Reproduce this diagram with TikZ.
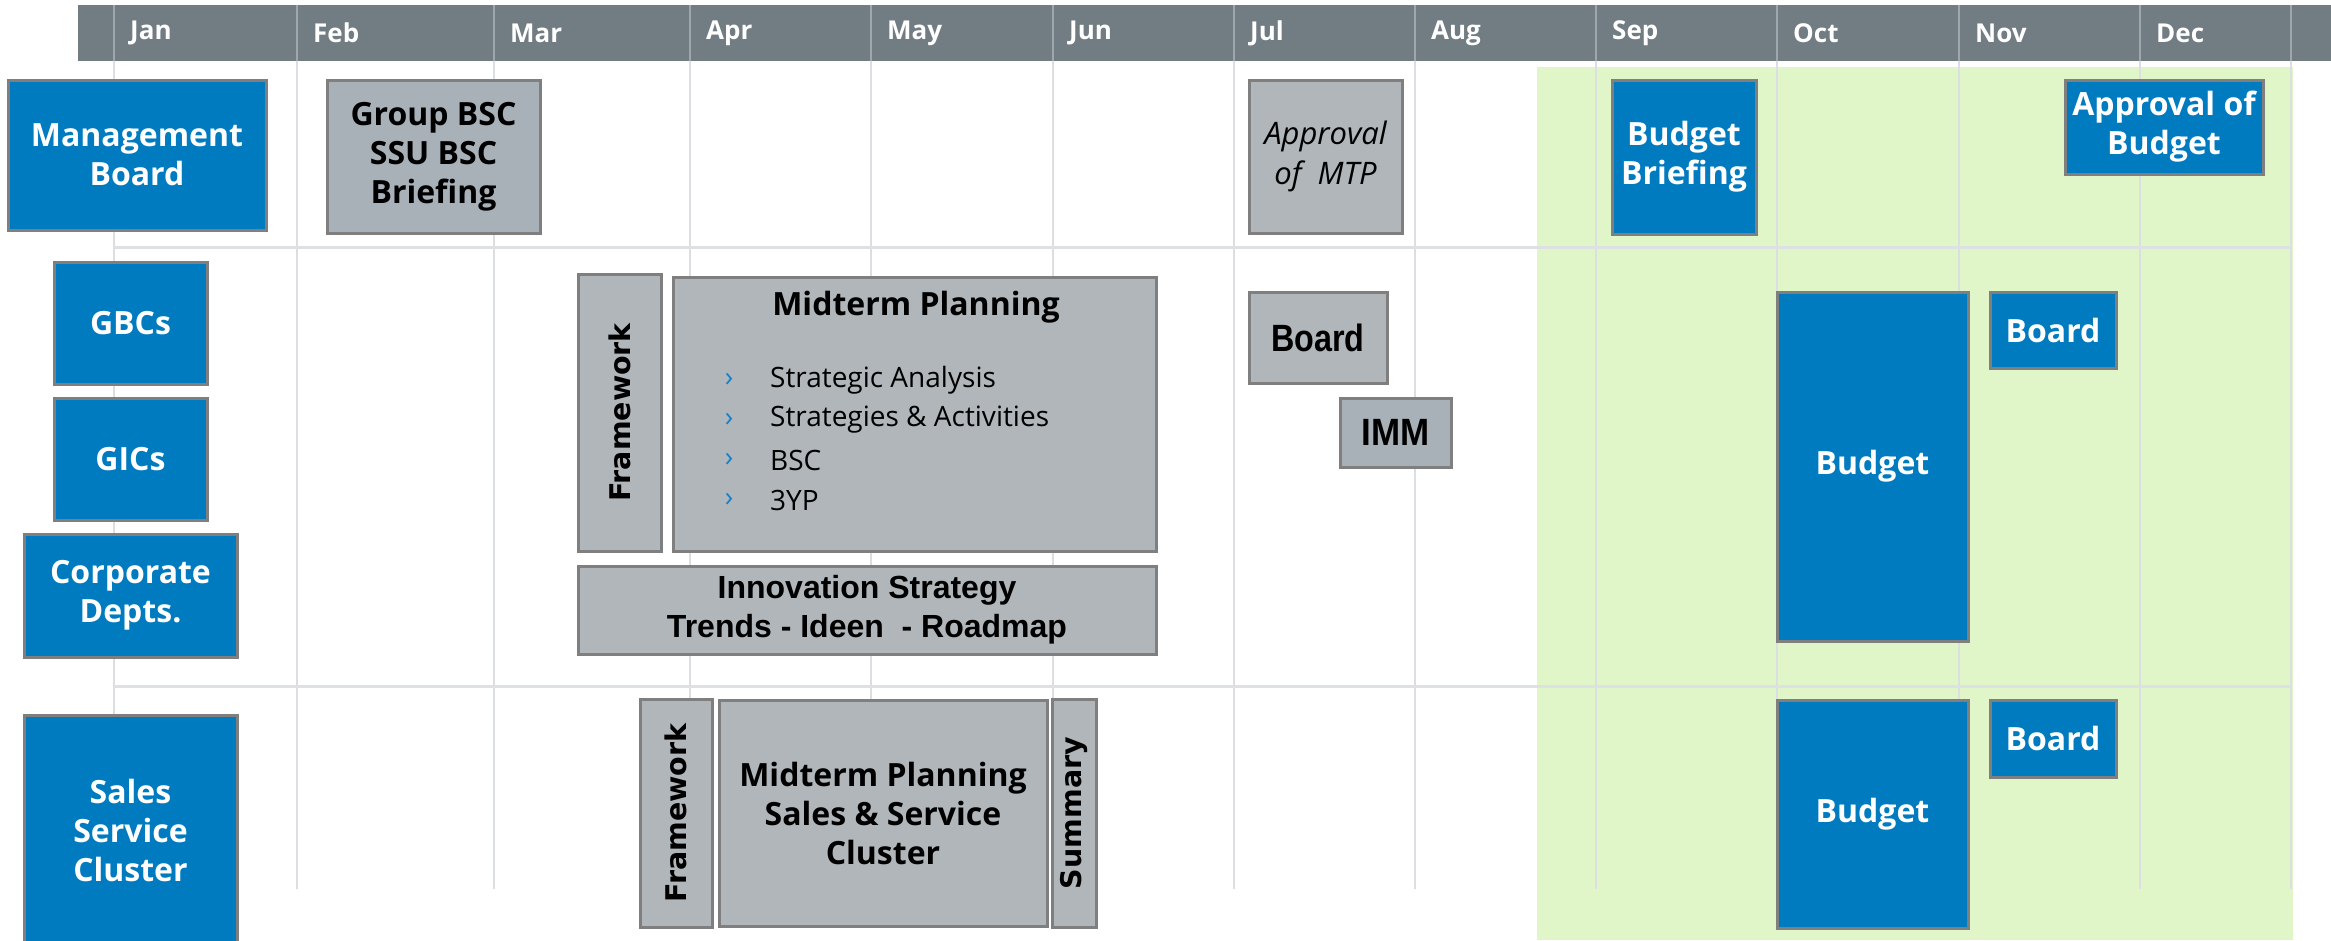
\documentclass[tikz,border=0pt]{standalone}
\usepackage{fontspec}
\setmainfont{Open Sans}
\newfontfamily\arialf{Liberation Sans}
\newfontfamily\narrowf{Liberation Sans}[FakeStretch=0.85]
\newfontfamily\narrowg{Liberation Sans}[FakeStretch=0.92]
\newfontfamily\widef{DejaVu Sans}
\definecolor{hdr}{HTML}{717C83}
\definecolor{gridc}{HTML}{DCDFE2}
\definecolor{gridh}{HTML}{9EA7AC}
\definecolor{sepc}{HTML}{DDE1E4}
\definecolor{greenbg}{HTML}{E0F6C8}
\definecolor{bluebx}{HTML}{007BC0}
\definecolor{bordc}{HTML}{7F7F7F}
\definecolor{grayA}{HTML}{B0B6B9}
\definecolor{grayB}{HTML}{A8B0B8}
\definecolor{bullc}{HTML}{1A80C4}
\newcommand\bx[7]{\node[#2, minimum width={#5-#3}, minimum height={#6-#4}] (#1) at ({(#3+#5)/2},{(#4+#6)/2}) {#7};}
\tikzset{
  basebox/.style={draw=bordc, line width=3pt, inner sep=0pt, align=center},
  bluebox/.style={basebox, fill=bluebx, text=white, font=\fontsize{32}{39}\selectfont\bfseries},
  grayboxA/.style={basebox, fill=grayA, text=black, font=\fontsize{32}{39}\selectfont\bfseries},
  grayboxB/.style={basebox, fill=grayB, text=black, font=\fontsize{32}{39}\selectfont\bfseries},
  monthlbl/.style={anchor=west, text=white, font=\fontsize{26}{30}\selectfont\bfseries, inner sep=0pt},
  vertlbl/.style={rotate=90, text=black, font=\widef\fontsize{28.5}{32}\selectfont\bfseries, inner sep=0pt},
  itemlbl/.style={anchor=west, text=black, font=\fontsize{28}{32}\selectfont, inner sep=0pt},
  bulletlbl/.style={text=bullc, font=\fontsize{28}{32}\selectfont, inner sep=0pt},
}
\begin{document}
\begin{tikzpicture}[x=1pt,y=-1pt]
\useasboundingbox (0,0) rectangle (2331,940);
\begin{scope}
\clip (0,0) rectangle (2331,940);
% green budget area
\fill[greenbg] (1537,67) rectangle (2293,940);
% header
\fill[hdr] (78,5) rectangle (2331,61);
\foreach \x in {114,297,494,690,871,1053,1234,1415,1596,1777,1959,2140,2291} {
  \draw[gridh, line width=1.5pt] (\x,5) -- (\x,61);
  \draw[gridc, line width=1.5pt] (\x,61) -- (\x,889);
}
\foreach \x/\m in {114/Jan,297/Feb,494/Mar,690/Apr,871/May,1053/Jun,1234/Jul,1415/Aug,1596/Sep,1777/Oct,1959/Nov,2140/Dec}
  \node[monthlbl] (m\m) at (\x+16,33) {\m};
% separators
\draw[sepc, line width=3pt] (114,247) -- (2291,247);
\draw[sepc, line width=3pt] (114,686) -- (2291,686);
% row 1
\bx{mb}{bluebox}{8}{80}{266}{230}{Management\\Board}
\bx{gbsc}{grayboxB}{327}{80}{540}{233}{Group BSC\\SSU BSC\\Briefing}
\bx{amtp}{grayboxA, font=\fontsize{31}{40}\selectfont\itshape}{1249}{80}{1402}{233}{Approval\\of\ \ MTP}
\bx{bb}{bluebox}{1612}{80}{1756}{234}{Budget\\Briefing}
\bx{ab}{bluebox}{2065}{80}{2263}{174}{Approval of\\Budget}
% row 2
\bx{gbc}{bluebox}{54}{262}{207}{384}{GBCs}
\bx{gic}{bluebox}{54}{398}{207}{520}{GICs}
\bx{cd}{bluebox}{24}{534}{237}{657}{Corporate\\Depts.}
\bx{fw1}{grayboxA}{578}{274}{661}{551}{}
\node[vertlbl] (fw1t) at (fw1.center) {Framework};
\bx{mp}{grayboxA}{673}{277}{1156}{551}{}
\node[font=\fontsize{32}{36}\selectfont\bfseries, inner sep=0pt] (mpt) at (916,307) {Midterm Planning};
\foreach \yy/\t [count=\i] in {380/Strategic Analysis,420/Strategies \& Activities,460/BSC,500/3YP} {
  \node[bulletlbl] (mpb\i) at (729,\yy) {›};
  \node[itemlbl] (mpi\i) at (770,\yy) {\t};
}
\bx{inn}{grayboxA, font=\arialf\fontsize{32}{39}\selectfont\bfseries}{578}{566}{1156}{654}{Innovation Strategy\\Trends - Ideen\ \ - Roadmap}
\bx{brd1}{grayboxA, font=\narrowf\fontsize{38}{40}\selectfont\bfseries}{1249}{292}{1387}{383}{Board}
\bx{imm}{grayboxB, font=\narrowg\fontsize{38}{40}\selectfont\bfseries}{1340}{398}{1451}{467}{IMM}
\bx{bud1}{bluebox}{1777}{292}{1968}{641}{Budget}
\bx{brd2}{bluebox}{1990}{292}{2116}{368}{Board}
% row 3
\bx{ssc}{bluebox}{24}{715}{237}{945}{Sales\\Service\\Cluster}
\bx{fw2}{grayboxA}{640}{699}{712}{927}{}
\node[vertlbl] (fw2t) at (fw2.center) {Framework};
\bx{mps}{grayboxA}{719}{700}{1047}{926}{Midterm Planning\\Sales \& Service\\Cluster}
\bx{sum}{grayboxA}{1052}{699}{1096}{927}{}
\node[vertlbl] (sumt) at (sum.center) {Summary};
\bx{bud2}{bluebox}{1777}{700}{1968}{928}{Budget}
\bx{brd3}{bluebox}{1990}{700}{2116}{777}{Board}
\end{scope}
\end{tikzpicture}
\end{document}
